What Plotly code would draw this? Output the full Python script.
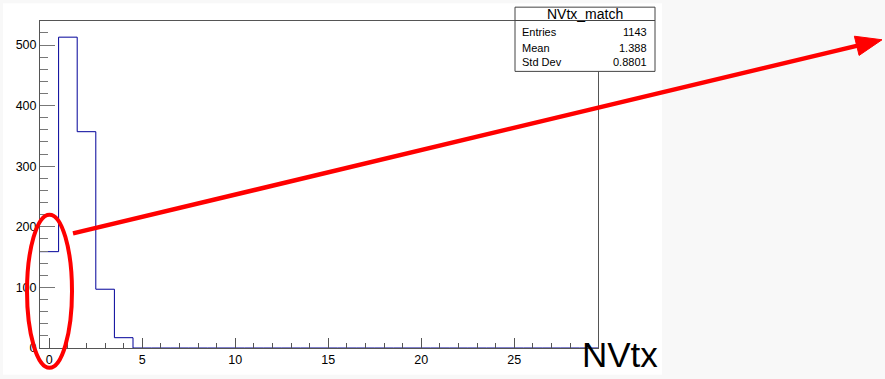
import plotly.graph_objects as go
import math

# ---- data ----
bin_centers = [0, 1, 2, 3, 4, 5, 6, 7, 8, 9, 10, 11, 12, 13, 14,
               15, 16, 17, 18, 19, 20, 21, 22, 23, 24, 25, 26, 27, 28, 29]
counts = [159, 513, 357, 97, 17, 0, 0, 0, 0, 0, 0, 0, 0, 0, 0,
          0, 0, 0, 0, 0, 0, 0, 0, 0, 0, 0, 0, 0, 0, 0]
x_tick_vals = [0, 5, 10, 15, 20, 25]
x_tick_text = ["0", "5", "10", "15", "20", "25"]
y_tick_vals = [0, 100, 200, 300, 400, 500]
y_tick_text = ["0", "100", "200", "300", "400", "500"]
hist_name = "NVtx_match"
x_title = "NVtx"

# stats computed from the histogram
entries = sum(counts)
mean = sum(c * x for c, x in zip(counts, bin_centers)) / entries
var = sum(c * x * x for c, x in zip(counts, bin_centers)) / entries - mean ** 2
std = math.sqrt(var)

# ---- layout geometry (pixels) ----
W, H = 885, 379
L, R, T, B = 40, 598, 21, 352
PW, PH = R - L, B - T


def px(x, y):
    return (x - L) / PW, (B - y) / PH


FONT = "Liberation Sans, Arial, Helvetica, sans-serif"

# step outline
xs = [c - 0.5 for c in bin_centers] + [bin_centers[-1] + 0.5]
ys = counts + [counts[-1]]

fig = go.Figure()
fig.add_trace(go.Scatter(x=xs, y=ys, mode="lines", line=dict(color="#000099", width=1, shape="hv"),
                         hoverinfo="skip", showlegend=False, cliponaxis=False))

ymax = max(counts) * 1.052

shapes = []
# white canvas
x0, y0 = px(3, 3)
x1, y1 = px(662, 379)
shapes.append(dict(type="rect", xref="paper", yref="paper", x0=x0, y0=y1, x1=x1, y1=y0,
                   fillcolor="white", line=dict(width=0), layer="below"))
# stats box
bx0, by0 = px(515, 7)
bx1, by1 = px(655, 72)
shapes.append(dict(type="rect", xref="paper", yref="paper", x0=bx0, y0=by1, x1=bx1, y1=by0,
                   fillcolor="white", line=dict(color="#444", width=1), layer="above"))
_, ly = px(0, 20.5)
shapes.append(dict(type="line", xref="paper", yref="paper", x0=bx0, y0=ly, x1=bx1, y1=ly,
                   line=dict(color="#444", width=1), layer="above"))

# red ellipse
ex0, ey0 = px(27, 217)
ex1, ey1 = px(72, 372)
shapes.append(dict(type="circle", xref="paper", yref="paper", x0=ex0, y0=ey1, x1=ex1, y1=ey0,
                   line=dict(color="#ff0000", width=4), layer="above"))

# red arrow
sx, sy = 73, 236
tx, ty = 882, 40
dx, dy = tx - sx, ty - sy
ln = math.hypot(dx, dy)
ux, uy = dx / ln, dy / ln
nx, ny = -uy, ux
hl, hw = 26, 10
bxc, byc = tx - hl * ux, ty - hl * uy
lx0, ly0 = px(sx, sy)
lx1, ly1 = px(bxc + 2 * ux, byc + 2 * uy)
shapes.append(dict(type="line", xref="paper", yref="paper", x0=lx0, y0=ly0, x1=lx1, y1=ly1,
                   line=dict(color="#ff0000", width=4.5), layer="above"))
p1 = px(tx, ty)
p2 = px(bxc + hw * nx, byc + hw * ny)
p3 = px(bxc - hw * nx, byc - hw * ny)
path = f"M {p1[0]},{p1[1]} L {p2[0]},{p2[1]} L {p3[0]},{p3[1]} Z"
shapes.append(dict(type="path", xref="paper", yref="paper", path=path,
                   fillcolor="#ff0000", line=dict(color="#ff0000", width=1), layer="above"))

annotations = []


def ann(text, x, y, size, xanchor="center", yanchor="middle"):
    ax, ay = px(x, y)
    annotations.append(dict(text=text, x=ax, y=ay, xref="paper", yref="paper", showarrow=False,
                            xanchor=xanchor, yanchor=yanchor, borderpad=0,
                            font=dict(family=FONT, size=size, color="black")))


ann(hist_name, 585, 14, 14)
rows = [("Entries", f"{entries}", 32), ("Mean", f"{mean:.4g}", 48), ("Std Dev", f"{std:.4g}", 63)]
for lab, val, yy in rows:
    ann(lab, 521, yy, 11, xanchor="left")
    ann(val, 648, yy, 11, xanchor="right")

ann(x_title, 659, 379, 35, xanchor="right", yanchor="bottom")

fig.update_layout(
    width=W, height=H,
    margin=dict(l=L, r=W - R, t=T, b=H - B, pad=0),
    paper_bgcolor="#f8f8f8",
    plot_bgcolor="white",
    shapes=shapes,
    annotations=annotations,
    showlegend=False,
    xaxis=dict(range=[-0.5, 29.5], tickmode="array", tickvals=x_tick_vals, ticktext=x_tick_text,
               ticks="inside", ticklen=10, tickcolor="#555", tickwidth=1,
               minor=dict(dtick=1, tick0=0, ticks="inside", ticklen=5, tickcolor="#555", showgrid=False),
               showline=True, linecolor="#555", linewidth=1, mirror=True, showgrid=False, zeroline=False,
               tickfont=dict(family=FONT, size=12.5, color="black")),
    yaxis=dict(range=[0, ymax], tickmode="array", tickvals=y_tick_vals, ticktext=y_tick_text,
               ticks="inside", ticklen=15, tickcolor="#777", tickwidth=1,
               minor=dict(dtick=20, tick0=0, ticks="inside", ticklen=8, tickcolor="#777", showgrid=False),
               showline=True, linecolor="#555", linewidth=1, mirror=True, showgrid=False, zeroline=False,
               tickfont=dict(family=FONT, size=12.5, color="black")),
)

fig.write_html("out.html")
